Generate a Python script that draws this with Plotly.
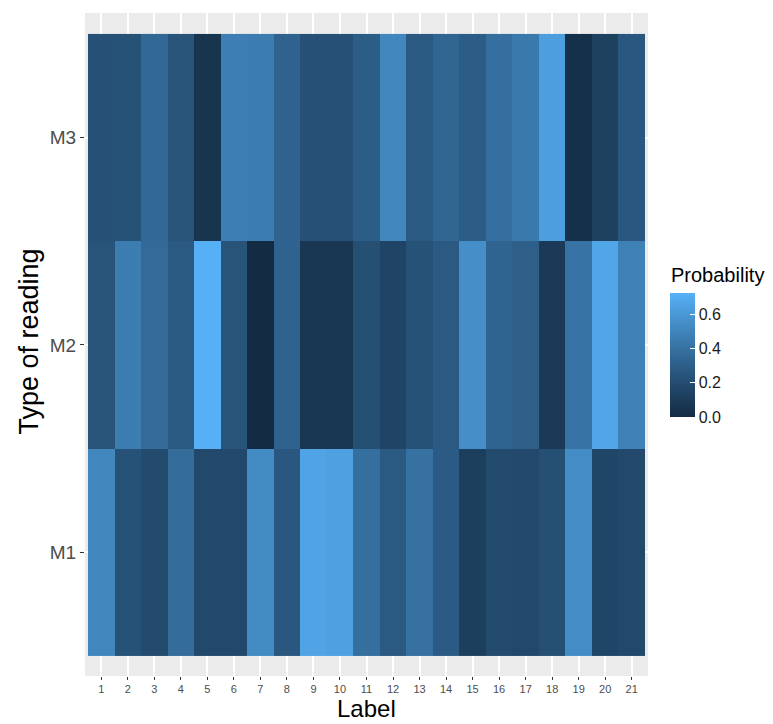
import plotly.graph_objects as go
import numpy as np

labels = list(range(1, 22))
readings = ["M1", "M2", "M3"]

m1 = [0.51, 0.23, 0.19, 0.37, 0.18, 0.18, 0.53, 0.26, 0.66, 0.64, 0.39,
      0.27, 0.40, 0.28, 0.12, 0.19, 0.18, 0.21, 0.54, 0.16, 0.18]
m2 = [0.24, 0.46, 0.36, 0.27, 0.72, 0.24, 0.00, 0.32, 0.07, 0.07, 0.21,
      0.15, 0.23, 0.27, 0.55, 0.33, 0.30, 0.09, 0.41, 0.67, 0.48]
m3 = [0.22, 0.23, 0.35, 0.24, 0.06, 0.47, 0.46, 0.32, 0.22, 0.22, 0.29,
      0.51, 0.27, 0.34, 0.29, 0.39, 0.44, 0.63, 0.03, 0.13, 0.26]

legend_ticks = [0.0, 0.2, 0.4, 0.6]

low_col = "#132B43"
high_col = "#56B1F7"


# ---- Lab interpolation (like ggplot's seq_gradient) ----
def hex2rgb(h):
    h = h.lstrip("#")
    return [int(h[i:i + 2], 16) / 255 for i in (0, 2, 4)]


def srgb2lin(c):
    return c / 12.92 if c <= 0.04045 else ((c + 0.055) / 1.055) ** 2.4


def lin2srgb(c):
    c = min(max(c, 0), 1)
    return 12.92 * c if c <= 0.0031308 else 1.055 * c ** (1 / 2.4) - 0.055


M = np.array([[0.4124, 0.3576, 0.1805], [0.2126, 0.7152, 0.0722], [0.0193, 0.1192, 0.9505]])
Minv = np.linalg.inv(M)
wp = np.array([0.95047, 1.0, 1.08883])


def f(t):
    return t ** (1 / 3) if t > 0.008856 else 7.787 * t + 16 / 116


def finv(t):
    return t ** 3 if t ** 3 > 0.008856 else (t - 16 / 116) / 7.787


def rgb2lab(rgb):
    lin = np.array([srgb2lin(c) for c in rgb])
    xyz = M @ lin / wp
    fx, fy, fz = [f(v) for v in xyz]
    return np.array([116 * fy - 16, 500 * (fx - fy), 200 * (fy - fz)])


def lab2rgb(lab):
    L, a, b = lab
    fy = (L + 16) / 116
    fx = fy + a / 500
    fz = fy - b / 200
    xyz = np.array([finv(fx), finv(fy), finv(fz)]) * wp
    lin = Minv @ xyz
    return [round(lin2srgb(c) * 255) for c in lin]


lab_lo = rgb2lab(hex2rgb(low_col))
lab_hi = rgb2lab(hex2rgb(high_col))
colorscale = []
for t in np.linspace(0, 1, 21):
    r, g, b = lab2rgb(lab_lo + (lab_hi - lab_lo) * t)
    colorscale.append([float(t), f"rgb({r},{g},{b})"])

z = [m1, m2, m3]
zmin = 0.0
zmax = 0.7235

FONT = "Liberation Sans, Arial"

fig = go.Figure(go.Heatmap(
    x=labels,
    y=[1, 2, 3],
    z=z,
    zmin=zmin,
    zmax=zmax,
    colorscale=colorscale,
    colorbar=dict(
        x=1.039, xanchor="left",
        y=0.4842, yanchor="middle",
        len=124, lenmode="pixels",
        thickness=25, thicknessmode="pixels",
        outlinewidth=0,
        tickvals=legend_ticks,
        ticktext=[f"{v:.1f}" for v in legend_ticks],
        ticks="inside", ticklen=5, tickcolor="white", tickwidth=1,
        tickfont=dict(family=FONT, size=16, color="#1A1A1A"),
        xpad=0, ypad=0,
    ),
))

fig.add_annotation(
    text="Probability", xref="paper", yref="paper",
    x=1.037, y=0.585, xanchor="left", yanchor="bottom", showarrow=False,
    font=dict(family=FONT, size=20, color="#000000"),
)
fig.add_annotation(
    text="Label", xref="paper", yref="paper",
    x=0.5, y=-0.0709, xanchor="center", yanchor="bottom", showarrow=False,
    borderpad=0,
    font=dict(family=FONT, size=24, color="#000000"),
)
fig.add_annotation(
    text="Type of reading", xref="paper", yref="paper", textangle=-90,
    x=-0.0995, y=0.5045, xanchor="center", yanchor="middle", showarrow=False,
    font=dict(family=FONT, size=27, color="#000000"),
)

fig.update_layout(
    width=773, height=724,
    margin=dict(l=85, r=125, t=13, b=48),
    paper_bgcolor="white",
    plot_bgcolor="#EBEBEB",
    font=dict(family=FONT),
    xaxis=dict(
        range=[0.387, 21.613], automargin=False,
        tickmode="array", tickvals=labels, ticktext=[str(v) for v in labels],
        ticks="outside", ticklen=3, tickcolor="#333333", tickwidth=1,
        tickfont=dict(size=11, color="#4D4D4D"),
        showgrid=True, gridcolor="white", gridwidth=1.5,
        zeroline=False, showline=False,
    ),
    yaxis=dict(
        range=[0.4035, 3.601], automargin=False,
        tickmode="array", tickvals=[1, 2, 3], ticktext=readings,
        ticks="outside", ticklen=4, tickcolor="#333333", tickwidth=1,
        tickfont=dict(size=19, color="#4D4D4D"),
        showgrid=True, gridcolor="white", gridwidth=1.5,
        zeroline=False, showline=False,
    ),
)

fig.write_html("out.html")
